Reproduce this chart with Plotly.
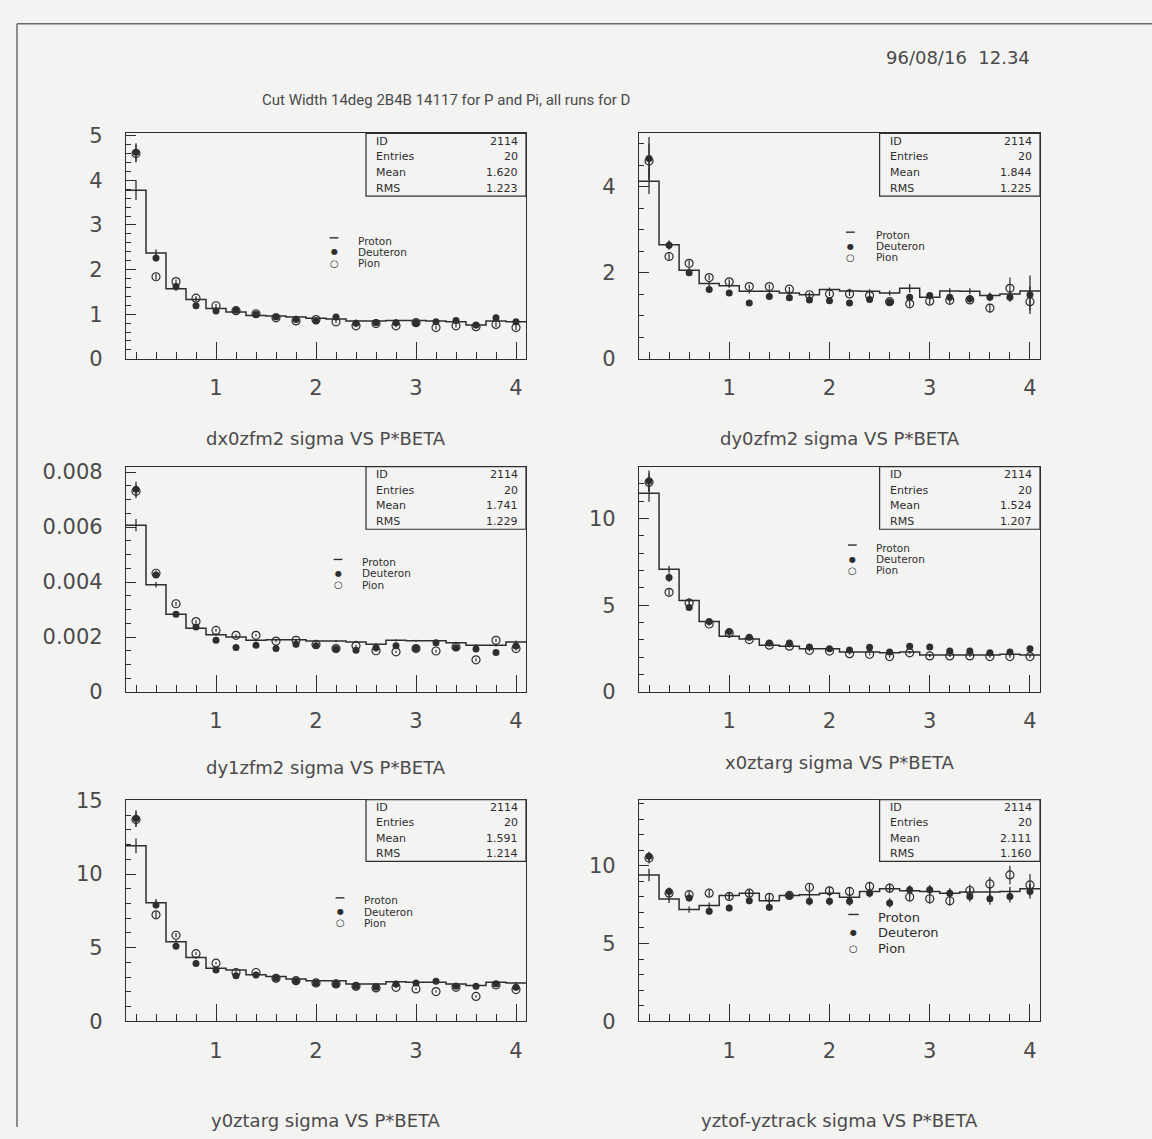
import plotly.graph_objects as go

W, H = 1152, 1139

# ---------------------------------------------------------------- data
P_BETA = [0.2, 0.4, 0.6, 0.8, 1.0, 1.2, 1.4, 1.6, 1.8, 2.0,
          2.2, 2.4, 2.6, 2.8, 3.0, 3.2, 3.4, 3.6, 3.8, 4.0]
BIN_WIDTH = 0.2

# dx0zfm2 sigma
dx0_proton = [3.78, 2.37, 1.57, 1.33, 1.13, 1.05, 0.97, 0.96, 0.94, 0.91,
              0.89, 0.85, 0.85, 0.86, 0.86, 0.85, 0.83, 0.76, 0.85, 0.83]
dx0_proton_err = [0.22, 0.08, 0.05, 0.04, 0.03, 0.03, 0.03, 0.03, 0.03, 0.03,
                  0.03, 0.03, 0.03, 0.03, 0.03, 0.03, 0.03, 0.03, 0.03, 0.03]
dx0_deuteron = [4.63, 2.26, 1.62, 1.19, 1.07, 1.09, 1.00, 0.94, 0.88, 0.85,
                0.94, 0.80, 0.81, 0.81, 0.81, 0.83, 0.86, 0.76, 0.92, 0.83]
dx0_deuteron_err = [0.20, 0.08, 0.05, 0.04, 0.04, 0.03, 0.03, 0.03, 0.03, 0.03,
                    0.04, 0.03, 0.03, 0.03, 0.03, 0.04, 0.04, 0.04, 0.05, 0.05]
dx0_pion = [4.60, 1.84, 1.73, 1.36, 1.19, 1.08, 1.01, 0.92, 0.85, 0.88,
            0.83, 0.74, 0.79, 0.74, 0.81, 0.70, 0.74, 0.72, 0.77, 0.70]
dx0_pion_err = [0.20, 0.07, 0.05, 0.04, 0.04, 0.03, 0.03, 0.03, 0.03, 0.03,
                0.03, 0.03, 0.04, 0.03, 0.03, 0.04, 0.04, 0.04, 0.05, 0.06]

# dy0zfm2 sigma
dy0_proton = [4.13, 2.65, 2.06, 1.75, 1.70, 1.57, 1.57, 1.53, 1.49, 1.61,
              1.58, 1.57, 1.53, 1.64, 1.43, 1.58, 1.57, 1.47, 1.51, 1.58]
dy0_proton_err = [0.30, 0.10, 0.07, 0.06, 0.05, 0.05, 0.05, 0.05, 0.05, 0.05,
                  0.05, 0.05, 0.06, 0.10, 0.06, 0.06, 0.07, 0.07, 0.08, 0.10]
dy0_deuteron = [4.66, 2.64, 2.00, 1.61, 1.53, 1.30, 1.45, 1.42, 1.37, 1.35,
                1.30, 1.38, 1.32, 1.43, 1.47, 1.43, 1.40, 1.43, 1.43, 1.49]
dy0_deuteron_err = [0.50, 0.10, 0.07, 0.06, 0.06, 0.05, 0.05, 0.05, 0.05, 0.05,
                    0.05, 0.06, 0.06, 0.07, 0.07, 0.08, 0.08, 0.09, 0.10, 0.45]
dy0_pion = [4.60, 2.38, 2.22, 1.89, 1.79, 1.68, 1.68, 1.62, 1.49, 1.51,
            1.51, 1.47, 1.33, 1.28, 1.34, 1.36, 1.37, 1.18, 1.64, 1.33]
dy0_pion_err = [0.40, 0.09, 0.07, 0.06, 0.06, 0.05, 0.05, 0.05, 0.05, 0.05,
                0.05, 0.06, 0.06, 0.07, 0.07, 0.08, 0.08, 0.10, 0.25, 0.20]

# dy1zfm2 sigma
dy1_proton = [0.00607, 0.00390, 0.00283, 0.00232, 0.00208, 0.00200, 0.00188,
              0.00190, 0.00190, 0.00185, 0.00185, 0.00182, 0.00174, 0.00188,
              0.00186, 0.00186, 0.00179, 0.00170, 0.00170, 0.00182]
dy1_proton_err = [0.00022, 0.00010, 0.00006, 0.00005, 0.00004, 0.00004, 0.00004,
                  0.00004, 0.00004, 0.00004, 0.00004, 0.00004, 0.00004, 0.00004,
                  0.00004, 0.00004, 0.00004, 0.00004, 0.00005, 0.00005]
dy1_deuteron = [0.00738, 0.00426, 0.00283, 0.00236, 0.00188, 0.00162, 0.00170,
                0.00158, 0.00174, 0.00168, 0.00156, 0.00152, 0.00161, 0.00168,
                0.00158, 0.00179, 0.00161, 0.00156, 0.00144, 0.00167]
dy1_deuteron_err = [0.00027, 0.00010, 0.00006, 0.00005, 0.00005, 0.00004, 0.00004,
                    0.00004, 0.00004, 0.00004, 0.00004, 0.00004, 0.00004, 0.00004,
                    0.00005, 0.00005, 0.00005, 0.00005, 0.00006, 0.00006]
dy1_pion = [0.00730, 0.00432, 0.00321, 0.00256, 0.00224, 0.00206, 0.00206,
            0.00185, 0.00188, 0.00173, 0.00158, 0.00168, 0.00150, 0.00146,
            0.00158, 0.00149, 0.00164, 0.00117, 0.00188, 0.00158]
dy1_pion_err = [0.00025, 0.00010, 0.00007, 0.00005, 0.00005, 0.00004, 0.00004,
                0.00004, 0.00004, 0.00004, 0.00004, 0.00004, 0.00004, 0.00004,
                0.00005, 0.00005, 0.00005, 0.00006, 0.00006, 0.00007]

# x0ztarg sigma
x0_proton = [11.47, 7.08, 5.28, 4.06, 3.21, 3.06, 2.70, 2.64, 2.49, 2.49,
             2.30, 2.30, 2.26, 2.30, 2.13, 2.13, 2.13, 2.13, 2.17, 2.13]
x0_proton_err = [0.50, 0.20, 0.12, 0.10, 0.08, 0.07, 0.06, 0.06, 0.06, 0.06,
                 0.06, 0.06, 0.06, 0.06, 0.06, 0.06, 0.06, 0.06, 0.06, 0.06]
x0_deuteron = [12.17, 6.60, 4.87, 4.06, 3.49, 3.15, 2.83, 2.83, 2.60, 2.49,
               2.42, 2.58, 2.30, 2.64, 2.60, 2.36, 2.36, 2.26, 2.30, 2.49]
x0_deuteron_err = [0.60, 0.25, 0.12, 0.10, 0.08, 0.07, 0.07, 0.07, 0.06, 0.06,
                   0.06, 0.06, 0.06, 0.07, 0.07, 0.07, 0.07, 0.07, 0.07, 0.08]
x0_pion = [12.10, 5.75, 5.13, 3.92, 3.40, 3.02, 2.70, 2.64, 2.40, 2.36,
           2.21, 2.17, 2.04, 2.26, 2.08, 2.08, 2.08, 2.04, 2.04, 2.04]
x0_pion_err = [0.50, 0.20, 0.12, 0.10, 0.08, 0.07, 0.06, 0.06, 0.06, 0.06,
               0.06, 0.06, 0.06, 0.06, 0.06, 0.06, 0.06, 0.06, 0.07, 0.07]

# y0ztarg sigma
y0_proton = [11.92, 8.05, 5.39, 4.32, 3.60, 3.47, 3.15, 3.04, 2.86, 2.75,
             2.75, 2.53, 2.53, 2.68, 2.64, 2.64, 2.53, 2.42, 2.64, 2.60]
y0_proton_err = [0.50, 0.25, 0.12, 0.10, 0.08, 0.07, 0.07, 0.06, 0.06, 0.06,
                 0.06, 0.06, 0.06, 0.06, 0.06, 0.06, 0.06, 0.06, 0.06, 0.06]
y0_deuteron = [13.78, 7.90, 5.10, 3.92, 3.47, 3.09, 3.13, 2.91, 2.75, 2.60,
               2.53, 2.37, 2.30, 2.53, 2.60, 2.71, 2.37, 2.37, 2.53, 2.30]
y0_deuteron_err = [0.55, 0.25, 0.12, 0.10, 0.08, 0.07, 0.07, 0.07, 0.06, 0.06,
                   0.06, 0.06, 0.06, 0.07, 0.07, 0.07, 0.07, 0.07, 0.07, 0.08]
y0_pion = [13.70, 7.23, 5.84, 4.59, 3.94, 3.31, 3.31, 2.91, 2.75, 2.60,
           2.53, 2.37, 2.26, 2.30, 2.19, 2.01, 2.30, 1.68, 2.46, 2.15]
y0_pion_err = [0.50, 0.22, 0.14, 0.10, 0.08, 0.07, 0.07, 0.06, 0.06, 0.06,
               0.06, 0.06, 0.06, 0.07, 0.07, 0.07, 0.07, 0.08, 0.08, 0.09]

# yztof-yztrack sigma
yz_proton = [9.41, 7.86, 7.18, 7.44, 8.09, 8.24, 7.75, 8.09, 8.14, 8.24,
             7.97, 8.35, 8.52, 8.39, 8.35, 8.24, 8.31, 8.31, 8.35, 8.52]
yz_proton_err = [0.40, 0.25, 0.20, 0.20, 0.22, 0.22, 0.22, 0.22, 0.22, 0.22,
                 0.22, 0.24, 0.24, 0.24, 0.25, 0.25, 0.26, 0.26, 0.28, 0.30]
yz_deuteron = [10.61, 8.35, 7.92, 7.08, 7.29, 7.75, 7.33, 8.09, 7.71, 7.71,
               7.71, 8.24, 7.61, 8.45, 8.45, 8.24, 8.03, 7.88, 8.03, 8.35]
yz_deuteron_err = [0.30, 0.25, 0.22, 0.22, 0.22, 0.22, 0.24, 0.24, 0.26, 0.26,
                   0.28, 0.28, 0.30, 0.30, 0.32, 0.32, 0.35, 0.38, 0.40, 0.45]
yz_pion = [10.50, 8.24, 8.14, 8.24, 8.03, 8.24, 7.97, 8.09, 8.62, 8.39,
           8.35, 8.67, 8.56, 7.99, 7.88, 7.75, 8.41, 8.83, 9.41, 8.77]
yz_pion_err = [0.35, 0.25, 0.22, 0.22, 0.22, 0.22, 0.24, 0.24, 0.26, 0.26,
               0.28, 0.28, 0.30, 0.30, 0.32, 0.32, 0.38, 0.45, 0.60, 0.70]

HIST_ID = 2114
ENTRIES = 20
MEANS = ["1.620", "1.844", "1.741", "1.524", "1.591", "2.111"]
RMSS = ["1.223", "1.225", "1.229", "1.207", "1.214", "1.160"]

TITLES = ["dx0zfm2 sigma VS P*BETA", "dy0zfm2 sigma VS P*BETA",
          "dy1zfm2 sigma VS P*BETA", "x0ztarg sigma VS P*BETA",
          "y0ztarg sigma VS P*BETA", "yztof-yztrack sigma VS P*BETA"]
SPECIES = ["Proton", "Deuteron", "Pion"]

# y tick values and their printed labels
Y_TICKS = [
    [0, 1, 2, 3, 4, 5],
    [0, 2, 4],
    [0, 0.002, 0.004, 0.006, 0.008],
    [0, 5, 10],
    [0, 5, 10, 15],
    [0, 5, 10],
]
Y_TICKTEXT = [
    ["0", "1", "2", "3", "4", "5"],
    ["0", "2", "4"],
    ["0", "0.002", "0.004", "0.006", "0.008"],
    ["0", "5", "10"],
    ["0", "5", "10", "15"],
    ["0", "5", "10"],
]

MAIN_TITLE = "Cut Width 14deg 2B4B 14117 for P and Pi, all runs for D"
DATE_STAMP = "96/08/16  12.34"

panels = [
    (dx0_proton, dx0_proton_err, dx0_deuteron, dx0_deuteron_err, dx0_pion, dx0_pion_err),
    (dy0_proton, dy0_proton_err, dy0_deuteron, dy0_deuteron_err, dy0_pion, dy0_pion_err),
    (dy1_proton, dy1_proton_err, dy1_deuteron, dy1_deuteron_err, dy1_pion, dy1_pion_err),
    (x0_proton, x0_proton_err, x0_deuteron, x0_deuteron_err, x0_pion, x0_pion_err),
    (y0_proton, y0_proton_err, y0_deuteron, y0_deuteron_err, y0_pion, y0_pion_err),
    (yz_proton, yz_proton_err, yz_deuteron, yz_deuteron_err, yz_pion, yz_pion_err),
]

# ---------------------------------------------------------------- styling / layout
INK = "#2e2e2e"
SOFT = "#4a4a4a"
PAPER = "#f3f3f2"
FONT = "DejaVu Sans"

COLS_PX = [(126, 526), (639, 1040)]
ROWS_PX = [(125, 355), (465, 695), (805, 1031)]

Y_RANGES = [5.05, 5.24, 0.0082, 13.0, 15.05, 14.25]
Y_MINOR = [0.2, 0.5, 0.0005, 1, 1, 1]

# species key placement inside each panel (axis-domain units): symbol x, text x, top row y, row step
LEGEND_POS = [
    (0.52, 0.575, 0.525, 0.05),
    (0.527, 0.585, 0.550, 0.05),
    (0.53, 0.585, 0.576, 0.05),
    (0.532, 0.585, 0.640, 0.05),
    (0.535, 0.59, 0.545, 0.05),
    (0.535, 0.59, 0.470, 0.07),
]
LEGEND_FONT = [10.5, 10.5, 10.5, 10.5, 10.5, 13]
TITLE_Y = [-0.355, -0.355, -0.335, -0.315, -0.45, -0.45]


def px_x(p):
    return p / W


def px_y(p):
    return 1 - p / H


fig = go.Figure()
layout = dict(
    width=W, height=H,
    margin=dict(l=0, r=0, t=0, b=0),
    paper_bgcolor=PAPER, plot_bgcolor=PAPER,
    showlegend=False,
    font=dict(family=FONT, color=INK),
)
annotations = []
shapes = []

edges = [c - BIN_WIDTH / 2 for c in P_BETA] + [P_BETA[-1] + BIN_WIDTH / 2]

for i, (prot, prot_e, deut, deut_e, pion, pion_e) in enumerate(panels):
    row, col = divmod(i, 2)
    n = "" if i == 0 else str(i + 1)
    xref, yref = "x" + n, "y" + n
    x0p, x1p = COLS_PX[col]
    y0p, y1p = ROWS_PX[row]

    layout["xaxis" + n] = dict(
        domain=[px_x(x0p), px_x(x1p)], anchor=yref,
        range=[edges[0], edges[-1]],
        tickmode="linear", tick0=0, dtick=1,
        ticks="inside", ticklen=17, tickwidth=1.2, tickcolor=INK,
        minor=dict(tickmode="linear", tick0=0, dtick=0.2, ticks="inside",
                   ticklen=7, tickwidth=1.1, tickcolor=INK),
        showline=True, linecolor=INK, linewidth=1.3, mirror=True,
        showgrid=False, zeroline=False,
        tickfont=dict(family=FONT, size=21, color=SOFT),
        ticklabelstandoff=10,
    )
    layout["yaxis" + n] = dict(
        domain=[px_y(y1p), px_y(y0p)], anchor=xref,
        range=[0, Y_RANGES[i]],
        tickmode="array", tickvals=Y_TICKS[i], ticktext=Y_TICKTEXT[i],
        ticks="inside", ticklen=10, tickwidth=1.2, tickcolor=INK,
        minor=dict(tickmode="linear", tick0=0, dtick=Y_MINOR[i], ticks="inside",
                   ticklen=5, tickwidth=1.0, tickcolor=INK),
        showline=True, linecolor=INK, linewidth=1.3, mirror=True,
        showgrid=False, zeroline=False,
        tickfont=dict(family=FONT, size=21, color=SOFT),
        ticklabelstandoff=18,
    )

    # proton: histogram outline plus error bars at bin centres
    fig.add_trace(go.Scatter(
        x=edges, y=prot + [prot[-1]], mode="lines", line_shape="hv",
        line=dict(color=INK, width=1.5), xaxis=xref, yaxis=yref,
        hoverinfo="skip"))
    fig.add_trace(go.Scatter(
        x=P_BETA, y=prot, mode="markers", name="Proton",
        marker=dict(size=2, color="rgba(0,0,0,0)"),
        error_y=dict(type="data", array=prot_e, width=0, thickness=1.3, color=INK),
        xaxis=xref, yaxis=yref))
    # pion: open circles
    fig.add_trace(go.Scatter(
        x=P_BETA, y=pion, mode="markers", name="Pion",
        marker=dict(symbol="circle-open", size=8, color=INK, line=dict(width=1.2)),
        error_y=dict(type="data", array=pion_e, width=0, thickness=1.2, color=INK),
        xaxis=xref, yaxis=yref))
    # deuteron: filled circles
    fig.add_trace(go.Scatter(
        x=P_BETA, y=deut, mode="markers", name="Deuteron",
        marker=dict(symbol="circle", size=7, color=INK),
        error_y=dict(type="data", array=deut_e, width=0, thickness=1.3, color=INK),
        xaxis=xref, yaxis=yref))

    dx, dy = xref + " domain", yref + " domain"

    # statistics box
    shapes.append(dict(type="rect", xref=dx, yref=dy, x0=0.6, x1=1.0, y0=0.722, y1=1.0,
                       line=dict(color=INK, width=1.2), fillcolor=PAPER, layer="above"))
    stats = [("ID", str(HIST_ID)), ("Entries", str(ENTRIES)),
             ("Mean", MEANS[i]), ("RMS", RMSS[i])]
    for k, (lab, val) in enumerate(stats):
        yy = 0.966 - k * 0.07
        annotations.append(dict(xref=dx, yref=dy, x=0.62, y=yy, text=lab,
                                showarrow=False, xanchor="left", yanchor="middle",
                                font=dict(family=FONT, size=11, color=INK)))
        annotations.append(dict(xref=dx, yref=dy, x=0.985, y=yy, text=val,
                                showarrow=False, xanchor="right", yanchor="middle",
                                font=dict(family=FONT, size=11, color=INK)))

    # species key: dash for the proton histogram, filled / open dots for the others
    sx, tx, top, step = LEGEND_POS[i]
    half = 0.011 if i < 5 else 0.013
    shapes.append(dict(type="line", xref=dx, yref=dy,
                       x0=sx - half, x1=sx + half, y0=top + 0.012, y1=top + 0.012,
                       line=dict(color=INK, width=1.4)))
    symbols = [None, "\u25cf", "\u25cb"]
    sym_sizes = [None, 8, 10]
    for k, name in enumerate(SPECIES):
        yy = top - k * step
        if symbols[k]:
            annotations.append(dict(xref=dx, yref=dy, x=sx, y=yy, text=symbols[k],
                                    showarrow=False, xanchor="center", yanchor="middle",
                                    font=dict(family=FONT, size=sym_sizes[k], color=INK)))
        annotations.append(dict(xref=dx, yref=dy, x=tx, y=yy, text=name,
                                showarrow=False, xanchor="left", yanchor="middle",
                                font=dict(family=FONT, size=LEGEND_FONT[i], color=INK)))

    # caption under the panel
    annotations.append(dict(xref=dx, yref=dy, x=0.5, y=TITLE_Y[i], text=TITLES[i],
                            showarrow=False, xanchor="center", yanchor="middle",
                            font=dict(family=FONT, size=18, color=SOFT)))

# page title and time stamp
annotations.append(dict(xref="paper", yref="paper", x=px_x(446), y=px_y(91),
                        text=MAIN_TITLE, showarrow=False, xanchor="center",
                        yanchor="middle", font=dict(family="Roboto", size=15, color=SOFT)))
annotations.append(dict(xref="paper", yref="paper", x=px_x(1032), y=px_y(47),
                        text=DATE_STAMP, showarrow=False, xanchor="right",
                        yanchor="middle", font=dict(family=FONT, size=18, color=SOFT)))

# page frame (top and left edges)
shapes.append(dict(type="line", xref="paper", yref="paper",
                   x0=px_x(17), x1=1.0, y0=px_y(13), y1=px_y(13),
                   line=dict(color="#6a6a6a", width=1.5)))
shapes.append(dict(type="line", xref="paper", yref="paper",
                   x0=px_x(17), x1=px_x(17), y0=px_y(13), y1=0.0,
                   line=dict(color="#6a6a6a", width=1.5)))

layout["annotations"] = annotations
layout["shapes"] = shapes
fig.update_layout(**layout)

fig.write_html("out.html")
